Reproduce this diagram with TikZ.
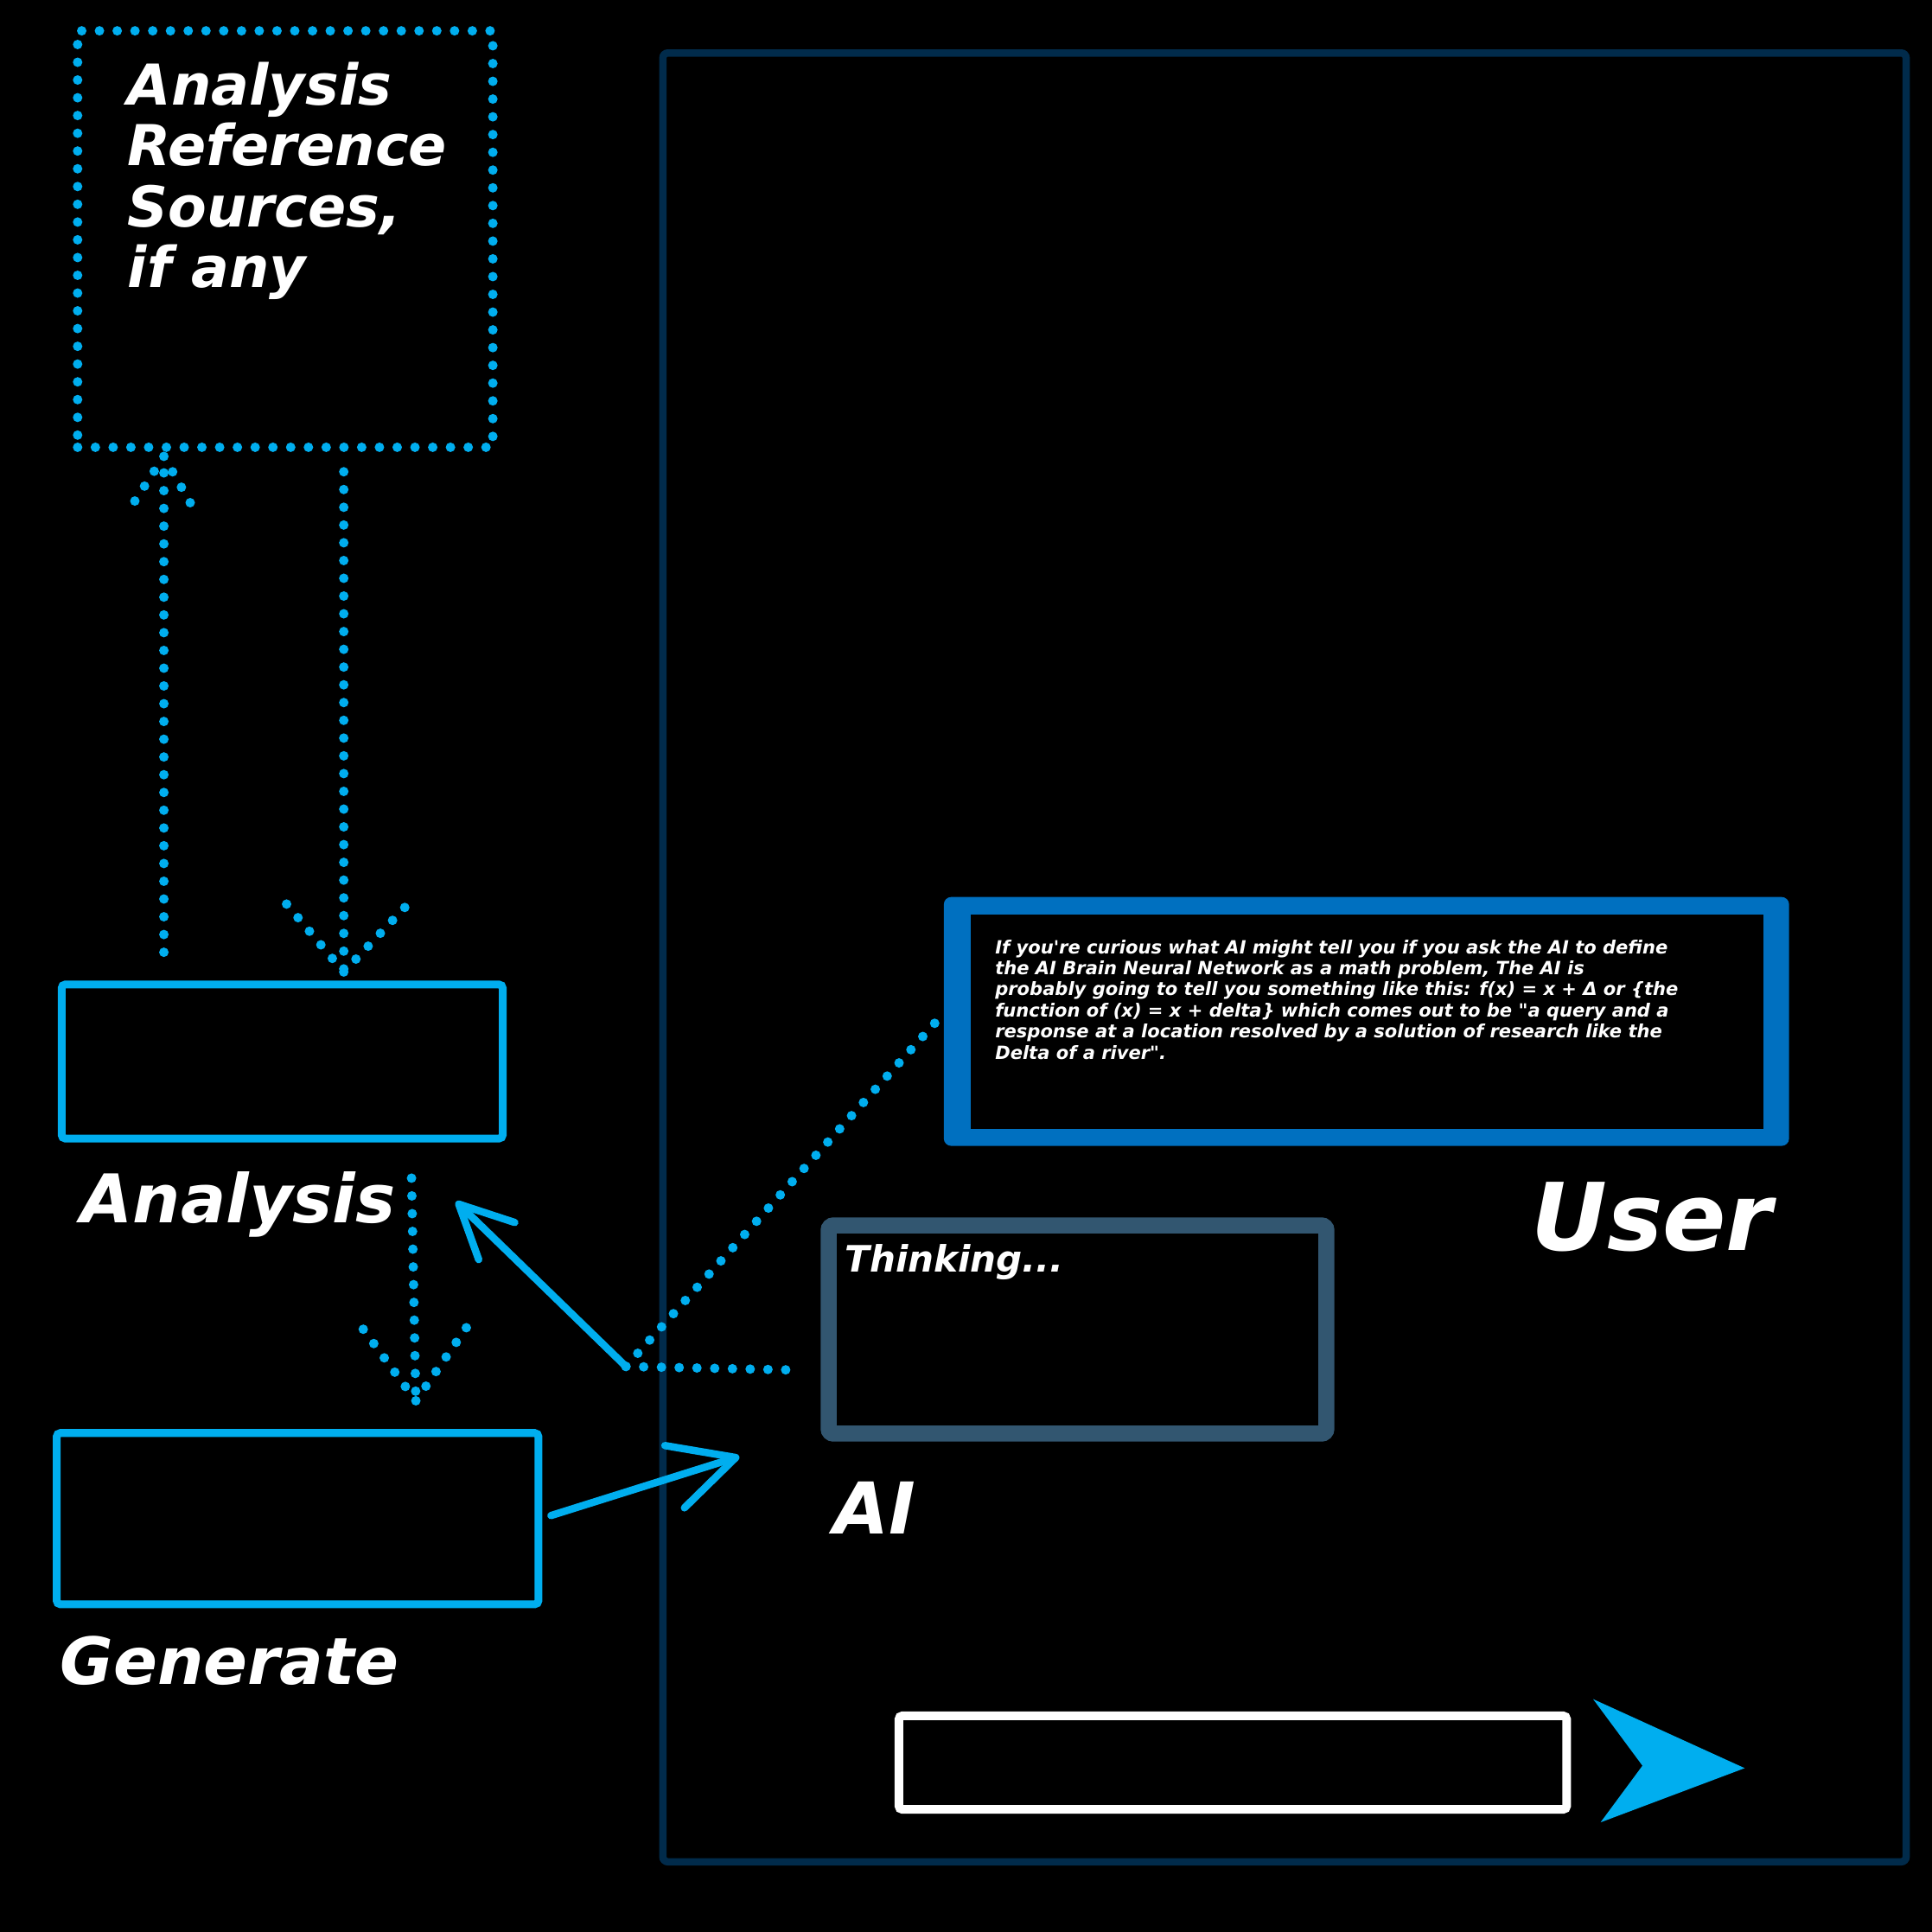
\documentclass[tikz,border=0pt]{standalone}
\usepackage{fontspec}
\setmainfont{DejaVu Sans}[BoldFont={DejaVu Sans Bold},ItalicFont={DejaVu Sans Oblique},BoldItalicFont={DejaVu Sans Bold Oblique}]
\usepackage{tikz}
\usetikzlibrary{arrows.meta}

\definecolor{skyline}{RGB}{0,174,239}
\definecolor{userblue}{RGB}{0,112,192}
\definecolor{slate}{RGB}{50,86,112}
\definecolor{navy}{RGB}{1,43,75}
\newcommand{\sz}[2]{\fontsize{#1}{#2}\selectfont}

\begin{document}
\begin{tikzpicture}[x=0.1mm,y=-0.1mm,
    dotline/.style={draw=skyline,line width=2.2pt,line cap=round,dash pattern=on 0pt off 4.1pt},
    panel/.style={draw=skyline,line width=1.8pt,rounded corners=0.3mm,inner sep=0pt},
    label/.style={text=white,inner sep=0pt,anchor=base west},
    pointer/.style={draw=skyline,line width=1.7pt,line cap=round}]
  \fill[black] (0,0) rectangle (1568,1568);
  \draw[navy,line width=0.6mm,rounded corners=0.4mm] (538,43) rectangle (1547,1511);

  \node[dotline,minimum width=33.7mm,minimum height=33.8mm,inner sep=0pt] (refbox) at (231.5,194) {};
  \node[label,anchor=north west,align=left,font=\sz{13}{14}\bfseries\itshape] (reftext) at (103,50) {Analysis\\Reference\\Sources,\\if any};

  \node[panel,minimum width=35.8mm,minimum height=12.5mm] (anbox) at (229,861.5) {};
  \node[label,font=\sz{15.5}{18}\bfseries\itshape] (anlabel) at (65,992) {Analysis};
  \node[panel,minimum width=39.1mm,minimum height=13.9mm] (genbox) at (241.5,1232.5) {};
  \node[label,font=\sz{15}{18}\bfseries\itshape] (genlabel) at (48,1367) {Generate};

  \node[fill=userblue,rounded corners=0.6mm,minimum width=68.6mm,minimum height=20.2mm,inner sep=0pt] (userbox) at (1109,829) {};
  \node[fill=black,minimum width=64.3mm,minimum height=17.4mm,inner sep=0pt] (userin) at (1109.5,829) {};
  \node[label,anchor=north west,align=left,font=\sz{4.2}{4.87}\bfseries\itshape] (usertext) at (807,762) {If you\textquotesingle re curious what AI might tell you if you ask the AI to define\\the AI Brain Neural Network as a math problem, The AI is\\probably going to tell you something like this: f(x) = x + Δ or \{the\\function of (x) = x + delta\} which comes out to be \textquotedbl a query and a\\response at a location resolved by a solution of research like the\\Delta of a river\textquotedbl.};
  \node[label,font=\sz{21.6}{24}\bfseries\itshape] (userlabel) at (1242,1015) {User};

  \node[draw=slate,line width=3.7pt,rounded corners=0.4mm,minimum width=40.4mm,minimum height=16.9mm,inner sep=0pt] (aibox) at (874.5,1079) {};
  \node[label,font=\sz{8.4}{10}\bfseries\itshape] (thinking) at (685,1032) {Thinking...};
  \node[label,font=\sz{16.5}{19}\bfseries\itshape] (ailabel) at (676,1245) {AI};

  \node[draw=white,line width=2pt,rounded corners=0.3mm,minimum width=54.2mm,minimum height=7.6mm,inner sep=0pt] (inputbox) at (1000.5,1430.5) {};
  \fill[skyline] (1293,1379) -- (1416,1435) -- (1299,1479) -- (1333,1433) -- cycle;

  \draw[dotline] ([xshift=-9.6mm,yshift=2.3mm]anbox.north) -- ([xshift=-9.85mm,yshift=-0.35mm]refbox.south) coordinate (uptip);
  \draw[dotline] (uptip) -- ++(-26,40) (uptip) -- ++(25,44);
  \draw[dotline] ([xshift=4.75mm,yshift=-1.6mm]refbox.south) -- ([xshift=5mm,yshift=0.7mm]anbox.north) coordinate (downtip);
  \draw[dotline] (downtip) -- ++(-48,-57) (downtip) -- ++(52,-55);
  \draw[dotline] ([xshift=10.5mm,yshift=-2.9mm]anbox.south) -- ([xshift=9.6mm,yshift=2.3mm]genbox.north) coordinate (gentip);
  \draw[dotline] (gentip) -- ++(-50,-68) (gentip) -- ++(47,-68);

  \coordinate (junct) at (508,1109);
  \draw[dotline] (junct) -- ([yshift=0.6mm]userbox.west);
  \draw[dotline] (junct) -- ([xshift=-1.6mm,yshift=-3.3mm]aibox.west);
  \draw[pointer,-{Straight Barb[length=4.3mm,width=4.2mm,round]}] (junct) -- ([xshift=-4.1mm,yshift=-4.8mm]anbox.south east);
  \draw[pointer,-{Straight Barb[length=5.2mm,width=5.3mm,round]}] ([xshift=0.7mm,yshift=0.25mm]genbox.east) -- ([xshift=-6.6mm,yshift=-1.2mm]aibox.south west);
\end{tikzpicture}
\end{document}
